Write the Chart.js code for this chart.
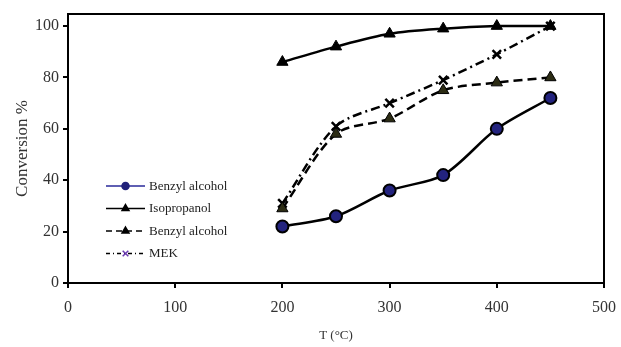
<!DOCTYPE html>
<html>
<head>
<meta charset="utf-8">
<script src="https://cdn.jsdelivr.net/npm/chart.js@4"></script>
<style>
  html, body { margin: 0; padding: 0; background: #fff; }
  #wrap { width: 621px; height: 347px; }
</style>
</head>
<body>
<div id="wrap"><canvas id="chart" width="621" height="347"></canvas></div>
<script>
// temperatures (°C)
const temps = [200, 250, 300, 350, 400, 450];
// conversion %
const benzylA = [22, 26, 36, 42, 60, 72];
const isopropanol = [86, 92, 97, 99, 100, 100];
const benzylB = [29, 58, 64, 75, 78, 80];
const mek = [31, 61, 70, 79, 89, 100];

const seriesNames = ['Benzyl alcohol', 'Isopropanol', 'Benzyl alcohol', 'MEK'];
const xTicks = [0, 100, 200, 300, 400, 500];
const yTicks = [0, 20, 40, 60, 80, 100];

const serif = '"Liberation Serif", "Times New Roman", serif';

function pts(vals) {
    return temps.map((t, i) => ({ x: t, y: vals[i] }));
}

// legend styles (line + marker), drawn inside the plot
const legendStyles = [
    { line: '#2a2a9a', dash: [], marker: 'circle', fill: '#22227a', stroke: '#22227a', r: 3.5 },
    { line: '#000', dash: [], marker: 'triangle', fill: '#000', stroke: '#000', r: 4 },
    { line: '#000', dash: [6, 4], marker: 'triangle', fill: '#000', stroke: '#000', r: 4 },
    { line: '#000', dash: [4, 3, 1, 3], marker: 'crossRot', fill: '#6a3ab0', stroke: '#6a3ab0', r: 4 }
];

const framePlugin = {
    id: 'frame',
    afterDatasetsDraw(chart) {
        const ctx = chart.ctx;
        const a = chart.chartArea;
        ctx.save();
        ctx.strokeStyle = '#000';
        ctx.lineWidth = 2;
        ctx.beginPath();
        ctx.moveTo(a.left, a.top);
        ctx.lineTo(a.right, a.top);
        ctx.lineTo(a.right, a.bottom);
        ctx.stroke();

        // legend
        const x0 = 106, x1 = 145, ys = [186, 208.5, 231, 253.5];
        ctx.font = '13px ' + serif;
        ctx.textBaseline = 'middle';
        seriesNames.forEach((name, i) => {
            const s = legendStyles[i];
            const y = ys[i];
            ctx.strokeStyle = s.line;
            ctx.lineWidth = 1.5;
            ctx.setLineDash(s.dash);
            ctx.beginPath();
            ctx.moveTo(x0, y);
            ctx.lineTo(x1, y);
            ctx.stroke();
            ctx.setLineDash([]);
            ctx.fillStyle = s.fill;
            ctx.strokeStyle = s.stroke;
            ctx.lineWidth = 1.5;
            Chart.helpers.drawPoint(ctx, { pointStyle: s.marker, radius: s.r, borderWidth: 1.5 }, (x0 + x1) / 2, y);
            ctx.fillStyle = '#222';
            ctx.fillText(name, x1 + 4, y + 0.5);
        });
        ctx.restore();
    }
};

new Chart(document.getElementById('chart'), {
    type: 'line',
    data: {
        datasets: [
            {
                label: seriesNames[0],
                data: pts(benzylA),
                borderColor: '#000',
                borderWidth: 2.5,
                pointStyle: 'circle',
                pointRadius: 6,
                pointBackgroundColor: '#23237e',
                pointBorderColor: '#000',
                pointBorderWidth: 2,
                tension: 0.3
            },
            {
                label: seriesNames[1],
                data: pts(isopropanol),
                borderColor: '#000',
                borderWidth: 2.5,
                pointStyle: 'triangle',
                pointRadius: 6.5,
                pointBackgroundColor: '#000',
                pointBorderColor: '#000',
                pointBorderWidth: 1,
                tension: 0.3
            },
            {
                label: seriesNames[2],
                data: pts(benzylB),
                borderColor: '#000',
                borderWidth: 2.5,
                borderDash: [9, 5],
                pointStyle: 'triangle',
                pointRadius: 6.5,
                pointBackgroundColor: '#2c2c14',
                pointBorderColor: '#000',
                pointBorderWidth: 1,
                tension: 0.3
            },
            {
                label: seriesNames[3],
                data: pts(mek),
                borderColor: '#000',
                borderWidth: 2.5,
                borderDash: [9, 4, 2, 4],
                pointStyle: 'crossRot',
                pointRadius: 6,
                pointBorderColor: '#000',
                pointBorderWidth: 2.5,
                tension: 0.3
            }
        ]
    },
    options: {
        responsive: false,
        animation: false,
        layout: { padding: { top: 14, right: 17, left: 0, bottom: 0 } },
        plugins: {
            legend: { display: false },
            tooltip: { enabled: false }
        },
        scales: {
            x: {
                type: 'linear',
                min: 0,
                max: 500,
                afterBuildTicks: s => { s.ticks = xTicks.map(v => ({ value: v })); },
                afterFit: s => { s.height = 64; s.paddingLeft = 0; s.paddingRight = 0; },
                border: { color: '#000', width: 2 },
                grid: { drawOnChartArea: false, drawTicks: true, tickLength: 5, color: '#000', lineWidth: 2 },
                ticks: { color: '#333', font: { family: serif, size: 16 }, padding: 10, maxRotation: 0 },
                title: { display: true, text: 'T (°C)', color: '#333', font: { family: serif, size: 13 }, padding: { top: 2 } }
            },
            y: {
                min: 0,
                max: 104.7,
                afterBuildTicks: s => { s.ticks = yTicks.map(v => ({ value: v })); },
                afterFit: s => { s.width = 68; s.paddingTop = 0; s.paddingBottom = 0; },
                border: { color: '#000', width: 2 },
                grid: { drawOnChartArea: false, drawTicks: true, tickLength: 5, color: '#000', lineWidth: 2 },
                ticks: { color: '#333', font: { family: serif, size: 16 }, padding: 4 },
                title: { display: true, text: 'Conversion %', color: '#333', font: { family: serif, size: 17 }, padding: { top: 12, bottom: 0 } }
            }
        }
    },
    plugins: [framePlugin]
});
</script>
</body>
</html>
